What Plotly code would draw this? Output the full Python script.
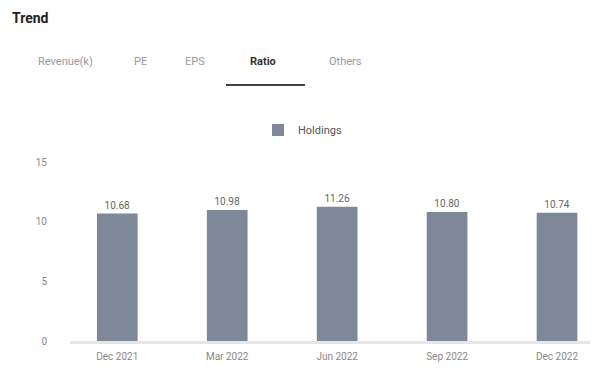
import plotly.graph_objects as go

# Quarterly ratio trend
quarters = ["Dec 2021", "Mar 2022", "Jun 2022", "Sep 2022", "Dec 2022"]
ratio_values = [10.68, 10.98, 11.26, 10.80, 10.74]
y_ticks = [0, 5, 10, 15]
tabs = ["Revenue(k)", "PE", "EPS", "Ratio", "Others"]
active_tab = "Ratio"
series_name = "Holdings"

W, H = 593, 374
L, R, T, B = 70, 3, 162, 33
pw, ph = W - L - R, H - T - B


def px(x):
    return (x - L) / pw


def py(y):
    return (H - B - y) / ph


fig = go.Figure()
fig.add_trace(go.Bar(
    x=quarters,
    y=ratio_values,
    name=series_name,
    marker=dict(color="#7e8898", line=dict(width=0)),
    width=0.37,
    text=[f"{v:.2f}" for v in ratio_values],
    textposition="outside",
    textfont=dict(size=10, color="#666666"),
    cliponaxis=False,
    showlegend=True,
))

annotations = [
    dict(text="<b>Trend</b>", x=px(10), y=py(18), xref="paper", yref="paper",
         xanchor="left", yanchor="middle", showarrow=False,
         font=dict(size=14, color="#222222")),
]
tab_x = [65, 140, 195, 263, 345]
for name, cx in zip(tabs, tab_x):
    active = name == active_tab
    annotations.append(dict(
        text=f"<b>{name}</b>" if active else name,
        x=px(cx), y=py(62), xref="paper", yref="paper",
        xanchor="center", yanchor="middle", showarrow=False,
        font=dict(size=11, color="#333333" if active else "#9a9a9a"),
    ))

shapes = [
    dict(type="line", xref="paper", yref="paper",
         x0=px(226), x1=px(305), y0=py(85), y1=py(85),
         line=dict(color="#444444", width=2)),
]

fig.update_layout(
    width=W, height=H,
    margin=dict(l=L, r=R, t=T, b=B),
    paper_bgcolor="white",
    plot_bgcolor="white",
    font=dict(family="Roboto, Arial, sans-serif", color="#888888"),
    bargap=0.6,
    legend=dict(orientation="h", x=px(258), y=py(130), xanchor="left", yanchor="middle",
                font=dict(size=11, color="#555555"), bgcolor="rgba(0,0,0,0)"),
    annotations=annotations,
    shapes=shapes,
    xaxis=dict(
        range=[-0.43, 4.30],
        showline=True, linecolor="#e6e6e6", linewidth=3,
        showgrid=False, ticks="",
        ticklabelstandoff=4,
        tickfont=dict(size=10, color="#888888"),
    ),
    yaxis=dict(
        range=[0, 15],
        tickvals=y_ticks,
        showgrid=False, zeroline=False, showline=False,
        ticklabelstandoff=22,
        tickfont=dict(size=10, color="#888888"),
    ),
)

fig.write_html("out.html")
